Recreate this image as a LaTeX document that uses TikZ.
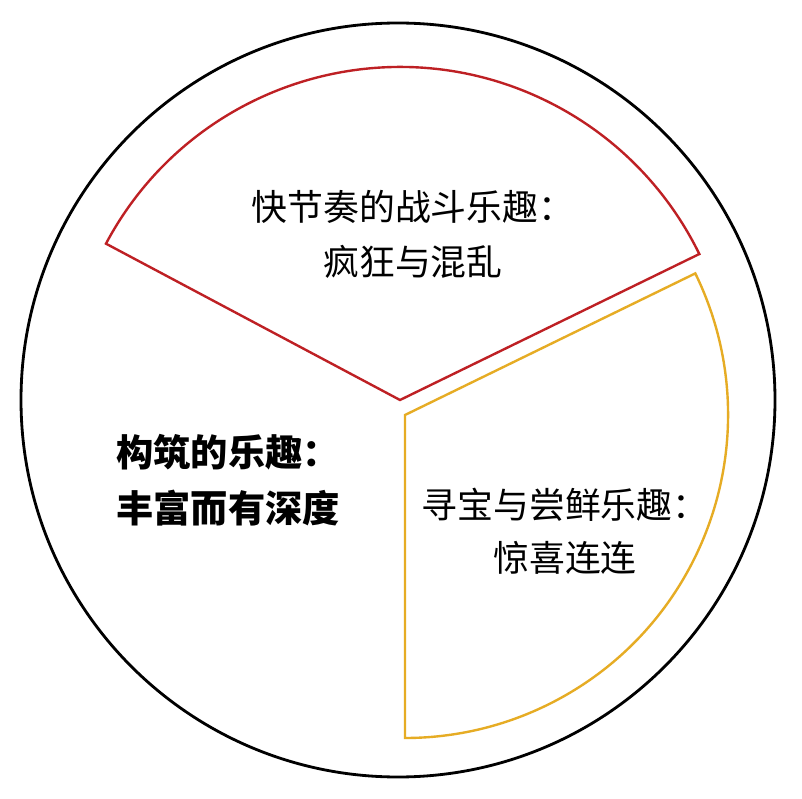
\documentclass[tikz,border=0pt]{standalone}
\usepackage{fontspec}
\newfontfamily\cjk{Noto Sans CJK SC}
\usepackage{tikz}
\usetikzlibrary{calc}

\begin{document}
\begin{tikzpicture}[
  x=0.025cm, y=0.025cm,
  every node/.style={font=\cjk\fontsize{25.5pt}{39pt}\selectfont, align=center, inner sep=0pt},
  rim/.style={draw=black, line width=2pt},
  wedge/.style={line width=1.7pt, line join=miter}
]
\definecolor{battle}{RGB}{190,32,36}
\definecolor{treasure}{RGB}{230,172,36}
\useasboundingbox (0,0) rectangle (802,798);
\fill[white] (0,0) rectangle (802,798);
\coordinate (c) at (398,398);
\coordinate (redtip) at (400,398);
\coordinate (goldtip) at (405,383);
\draw[rim] (c) circle[radius=377];
\draw[wedge, draw=battle] (redtip) -- ($(redtip)+(152:333)$) arc[start angle=152, end angle=26, radius=333] -- cycle;
\draw[wedge, draw=treasure] (goldtip) -- ($(goldtip)+(26:323)$) arc[start angle=26, end angle=-90, radius=323] -- cycle;
\node (fight) at (413,564) {快节奏的战斗乐趣：\\疯狂与混乱};
\node (build) [anchor=west, align=left, font=\cjk\bfseries\fontsize{26.5pt}{40pt}\selectfont] at (116,318) {构筑的乐趣：\\丰富而有深度};
\node (loot) [font=\cjk\fontsize{25.5pt}{38pt}\selectfont] at (565,267) {寻宝与尝鲜乐趣：\\惊喜连连};
\end{tikzpicture}
\end{document}
